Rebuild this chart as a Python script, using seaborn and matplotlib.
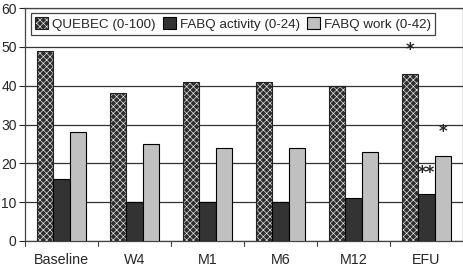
import matplotlib
matplotlib.use("Agg")
import matplotlib.pyplot as plt
import matplotlib.colors as mcolors
import seaborn as sns
import pandas as pd
from matplotlib.patches import Patch

categories = ["Baseline", "W4", "M1", "M6", "M12", "EFU"]
series = ["QUEBEC (0-100)", "FABQ activity (0-24)", "FABQ work (0-42)"]
quebec = [49, 38, 41, 41, 40, 43]
fabq_activity = [16, 10, 10, 10, 11, 12]
fabq_work = [28, 25, 24, 24, 23, 22]
yticks = [0, 10, 20, 30, 40, 50, 60]

# significance markers: (category, series index, y value, text)
markers = [("EFU", 0, 49.3, "*"), ("EFU", 1, 17.6, "**"), ("EFU", 2, 28.0, "*")]

rows = []
for s, vals in zip(series, [quebec, fabq_activity, fabq_work]):
    for c, v in zip(categories, vals):
        rows.append({"cat": c, "series": s, "value": v})
df = pd.DataFrame(rows)

sns.set_style("white")
plt.rcParams["font.family"] = ["Liberation Sans", "DejaVu Sans"]
plt.rcParams["hatch.linewidth"] = 0.45

fig = plt.figure(figsize=(4.64, 2.66), dpi=100)
ax = fig.add_axes([25/464, 1 - 241/266, 438/464, 233/266])

colors = ["#2e2e2e", "#333333", "#c0c0c0"]
sns.barplot(data=df, x="cat", y="value", hue="series", order=categories,
            hue_order=series, palette=colors, width=0.66, gap=0, saturation=1,
            edgecolor="black", linewidth=0.8, ax=ax, legend=False, zorder=3)

white = mcolors.to_rgba("#f0f0f0")
def dotted(p):
    p.set_hatch("xxxxx")
    p.set_edgecolor("#222222")
    p._hatch_color = white

for bar in ax.containers[0]:
    dotted(bar)

ax.set_ylim(0, 60)
ax.set_xlim(-0.5, len(categories) - 0.5)
ax.set_yticks(yticks)
ax.set_yticklabels([str(t) for t in yticks], fontsize=10)
ax.yaxis.grid(True, color="#333333", linewidth=0.9, zorder=0)
ax.set_axisbelow(True)
ax.set_xlabel("")
ax.set_ylabel("")

ax.set_xticks(range(len(categories)))
ax.set_xticklabels(categories, fontsize=10.3)
ax.tick_params(axis="x", length=0, pad=9)
ax.tick_params(axis="y", length=4, width=0.8, direction="out", left=True, pad=2)
for b in [i - 0.5 for i in range(len(categories) + 1)]:
    ax.plot([b, b], [0, -1.2], color="#444444", lw=0.8, clip_on=False, zorder=5)

for sp in ax.spines.values():
    sp.set_color("#444444")
    sp.set_linewidth(0.9)
    sp.set_visible(True)

# significance markers
bw = 0.66 / 3
for cat, si, yv, txt in markers:
    xi = categories.index(cat) - 0.66 / 2 + bw * (si + 0.5)
    ax.text(xi, yv, txt, ha="center", va="center", fontsize=12, fontweight="bold",
            family="DejaVu Sans", zorder=6)

h0 = Patch(facecolor=colors[0], linewidth=0.8)
dotted(h0)
handles = [h0,
           Patch(facecolor=colors[1], edgecolor="black", linewidth=0.8),
           Patch(facecolor=colors[2], edgecolor="black", linewidth=0.8)]
leg = ax.legend(handles, series, ncol=3, loc="upper left",
                bbox_to_anchor=(6/438, 1 - 5/233), fontsize=9.6, frameon=True,
                fancybox=False, edgecolor="#444444", framealpha=1,
                handlelength=1.0, handleheight=1.0, handletextpad=0.3,
                columnspacing=0.5, borderpad=0.3, borderaxespad=0)
leg.get_frame().set_linewidth(0.9)
leg.set_zorder(10)

fig.savefig("out.png", dpi=100)
